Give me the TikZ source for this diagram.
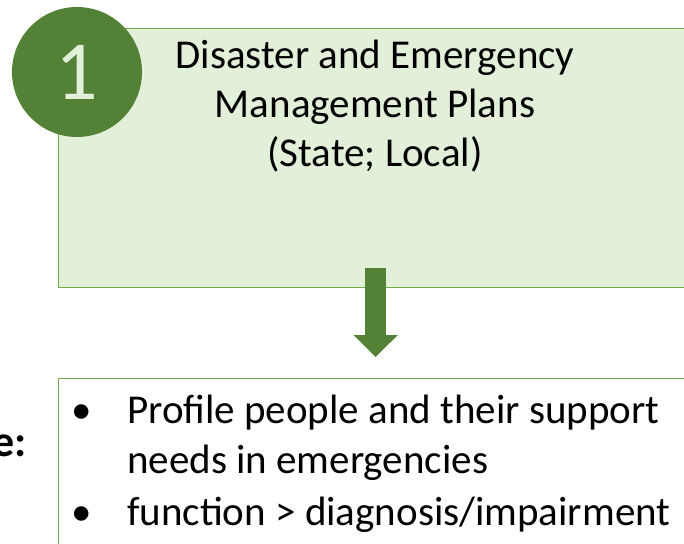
\documentclass[tikz,border=0pt]{standalone}
\usepackage{fontspec}
\setmainfont{Carlito}
\usetikzlibrary{arrows.meta}
\definecolor{dkgreen}{HTML}{538135}
\definecolor{ltfill}{HTML}{E2EFD9}
\definecolor{edgegreen}{HTML}{70AD47}
\tikzset{
  panel/.style={draw=edgegreen, line width=1.3pt, rectangle, inner sep=0pt},
  bodytext/.style={font=\fontsize{41}{49}\selectfont, text=black, inner sep=0pt},
  badge/.style={circle, fill=dkgreen, draw=none, minimum size=130pt, inner sep=0pt,
    font=\fontsize{84}{84}\selectfont, text=ltfill},
  flowarrow/.style={draw=dkgreen, line width=21pt,
    -{Triangle[width=43pt,length=22pt,fill=dkgreen]}},
}
\begin{document}
\begin{tikzpicture}[x=1pt,y=1pt]
\useasboundingbox (0,0) rectangle (684,-543);
% top panel
\node[panel, fill=ltfill, minimum width=634pt, minimum height=259pt, anchor=north west] (plan) at (58,-28) {};
\node[bodytext, anchor=base] (pl1) at (375,-68) {Disaster and Emergency};
\node[bodytext, anchor=base] (pl2) at (375,-117) {Management Plans};
\node[bodytext, anchor=base] (pl3) at (375,-166) {(State; Local)};
% badge
\node[badge] (num) at (77,-72) {\raisebox{-0.02em}{1}};
% bottom panel
\node[panel, fill=white, minimum width=634pt, minimum height=200pt, anchor=north west] (needs) at (58,-377.5) {};
% arrow
\draw[flowarrow] ([yshift=20pt]plan.south) -- ([yshift=20.5pt]needs.north);
% bullets
\node[bodytext, anchor=base] (b1) at (82,-423) {•};
\node[bodytext, anchor=base west] (t1) at (127,-423) {Profile people and their support};
\node[bodytext, anchor=base west] (t2) at (127,-473) {needs in emergencies};
\node[bodytext, anchor=base] (b2) at (82,-525) {•};
\node[bodytext, anchor=base west] (t3) at (127,-525) {function > diagnosis/impairment};
% clipped label
\node[bodytext, font=\fontsize{44}{50}\selectfont\bfseries, anchor=base east] (lbl) at (27,-456) {e:};
\end{tikzpicture}
\end{document}
